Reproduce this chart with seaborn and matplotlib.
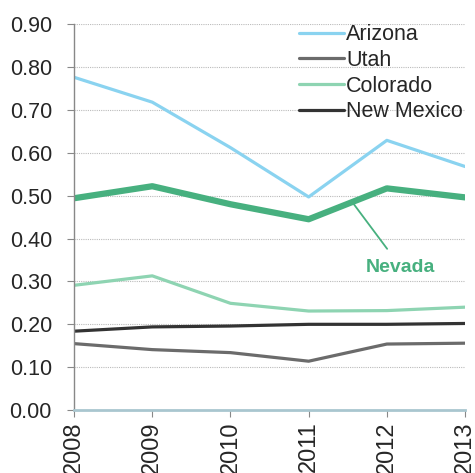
import matplotlib
matplotlib.use('Agg')
import matplotlib.pyplot as plt
import pandas as pd
import seaborn as sns

years = [2008, 2009, 2010, 2011, 2012, 2013]
arizona = [0.776, 0.718, 0.612, 0.497, 0.629, 0.568]
utah = [0.155, 0.141, 0.134, 0.114, 0.154, 0.156]
colorado = [0.291, 0.313, 0.249, 0.231, 0.232, 0.240]
new_mexico = [0.184, 0.194, 0.196, 0.200, 0.200, 0.202]
nevada = [0.494, 0.522, 0.480, 0.445, 0.517, 0.496]
yticks = [0.0, 0.1, 0.2, 0.3, 0.4, 0.5, 0.6, 0.7, 0.8, 0.9]

df = pd.DataFrame({'year': years, 'Arizona': arizona, 'Utah': utah,
                   'Colorado': colorado, 'New Mexico': new_mexico, 'Nevada': nevada})

sns.set_style('white')
plt.rcParams['font.family'] = ['Liberation Sans', 'DejaVu Sans']

fig = plt.figure(figsize=(4.75, 4.73), dpi=100)
ax = fig.add_axes([0.156, 0.133, 0.823, 0.816])

# dotted grid
for y in yticks[1:]:
    ax.axhline(y, color='#bbbbbb', lw=0.8, ls=(0, (1, 1)), zorder=0)

styles = {
    'Arizona': '#8ad3f0',
    'Utah': '#6b6b6b',
    'Colorado': '#8ed4b2',
    'New Mexico': '#333333',
}
for name, c in styles.items():
    sns.lineplot(data=df, x='year', y=name, ax=ax, color=c, lw=2.3, label=name)
sns.lineplot(data=df, x='year', y='Nevada', ax=ax, color='#47b07f', lw=4.5, legend=False)

ax.annotate('Nevada', xy=(2011.57, 0.482), xytext=(2012.18, 0.333),
            color='#47b07f', fontsize=14, fontweight='bold', ha='center', va='center',
            arrowprops=dict(arrowstyle='-', color='#47b07f', lw=1.3, shrinkA=6, shrinkB=0))

ax.set_xlim(2008, 2013)
ax.set_ylim(0, 0.9)
ax.set_yticks(yticks)
ax.set_yticklabels([f'{v:.2f}' for v in yticks], fontsize=15.5)
ax.set_xticks(years)
ax.set_xticklabels([str(y) for y in years], rotation=90, fontsize=17)
ax.set_xlabel('')
ax.set_ylabel('')

for s in ['top', 'right']:
    ax.spines[s].set_visible(False)
ax.spines['left'].set_color('#888888')
ax.spines['left'].set_linewidth(1)
ax.spines['bottom'].set_color('#a9c6cf')
ax.spines['bottom'].set_linewidth(2)
ax.tick_params(axis='both', which='both', length=5, color='#888888', width=0.8,
               direction='out', left=True, bottom=True)
ax.tick_params(axis='y', pad=11)
ax.tick_params(axis='x', pad=3)

ax.legend(loc='upper right', bbox_to_anchor=(0.995, 1.0), frameon=False,
          fontsize=15.5, handlelength=2.1, handletextpad=0.1, labelspacing=0.22,
          borderaxespad=0.0, borderpad=0.0)

fig.savefig('out.png', dpi=100)
